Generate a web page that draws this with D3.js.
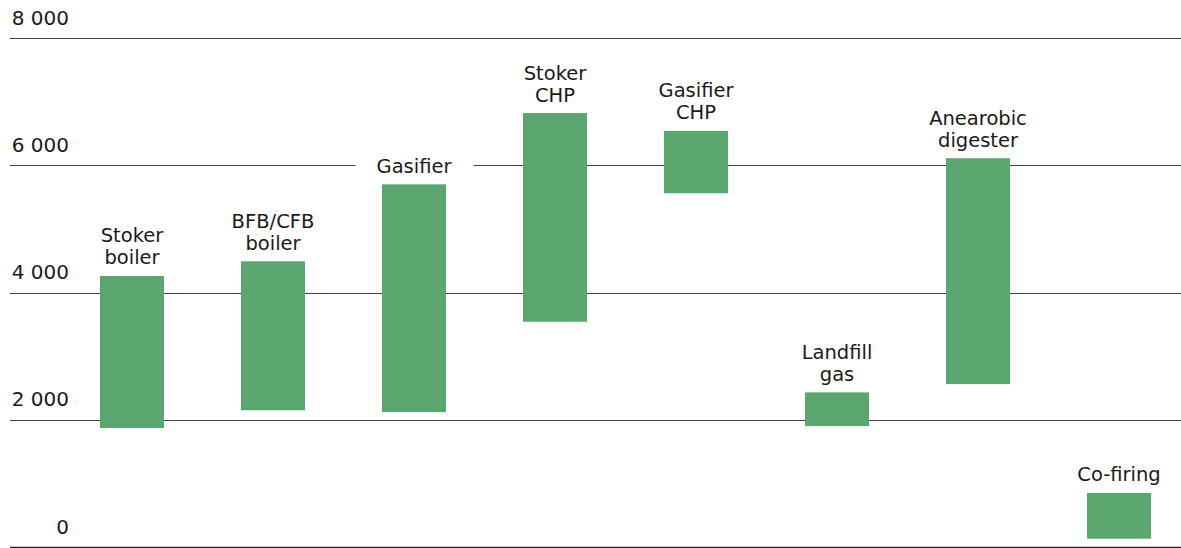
<!DOCTYPE html>
<html><head><meta charset="utf-8">
<script src="https://cdn.jsdelivr.net/npm/d3@7"></script>
<style>body{margin:0;background:#fff}svg{display:block}text{font-family:"DejaVu Sans",sans-serif;fill:#1a1a1a}</style>
</head><body><svg id="c" width="1181" height="548"></svg>
<script>
const categories = ["Stoker\nboiler","BFB/CFB\nboiler","Gasifier","Stoker\nCHP","Gasifier\nCHP","Landfill\ngas","Anearobic\ndigester","Co-firing"];
const lowValues  = [1870, 2150, 2120, 3540, 5560, 1900, 2560, 130];
const highValues = [4260, 4490, 5700, 6820, 6540, 2430, 6110, 850];
const tickValues = [0, 2000, 4000, 6000, 8000];
const tickLabels = ["0","2 000","4 000","6 000","8 000"];

const svg = d3.select("#c");
const y = d3.scaleLinear().domain([0, 8000]).range([547, 38]);
const x = d3.scaleBand().domain(categories).range([61.5, 1189.5]).paddingInner(0.546).paddingOuter(0.273);

// gridlines
svg.append("g").selectAll("line").data(tickValues).join("line")
  .attr("x1", 10).attr("x2", 1181)
  .attr("y1", d => Math.round(y(d)) + 0.5).attr("y2", d => Math.round(y(d)) + 0.5)
  .attr("stroke", d => d === 0 ? "#222" : "#444").attr("stroke-width", d => d === 0 ? 1.5 : 1);

// tick labels
svg.append("g").selectAll("text").data(tickValues).join("text")
  .attr("x", 69).attr("y", d => y(d) - 13.5)
  .attr("text-anchor", "end").attr("font-size", 20)
  .text((d, i) => tickLabels[i]);

// bars
svg.append("g").selectAll("rect").data(categories).join("rect")
  .attr("x", d => x(d)).attr("width", x.bandwidth())
  .attr("y", (d, i) => y(highValues[i]))
  .attr("height", (d, i) => y(lowValues[i]) - y(highValues[i]))
  .attr("fill", "#5ba56e");

// labels
const lg = svg.append("g");
categories.forEach((c, i) => {
  const lines = c.split("\n");
  const cx = x(c) + x.bandwidth() / 2;
  const baseY = y(highValues[i]) - 11.5;
  const g = lg.append("g");
  const t = g.append("text").attr("text-anchor", "middle").attr("font-size", 19.5);
  lines.forEach((l, j) => {
    t.append("tspan").attr("x", cx).attr("y", baseY - (lines.length - 1 - j) * 22).text(l);
  });
  if (lines.length === 1 && c === "Gasifier") {
    const bb = t.node().getBBox();
    g.insert("rect", "text").attr("x", bb.x - 21).attr("y", bb.y).attr("width", bb.width + 42).attr("height", bb.height + 4).attr("fill", "#fff");
  }
});
</script></body></html>
